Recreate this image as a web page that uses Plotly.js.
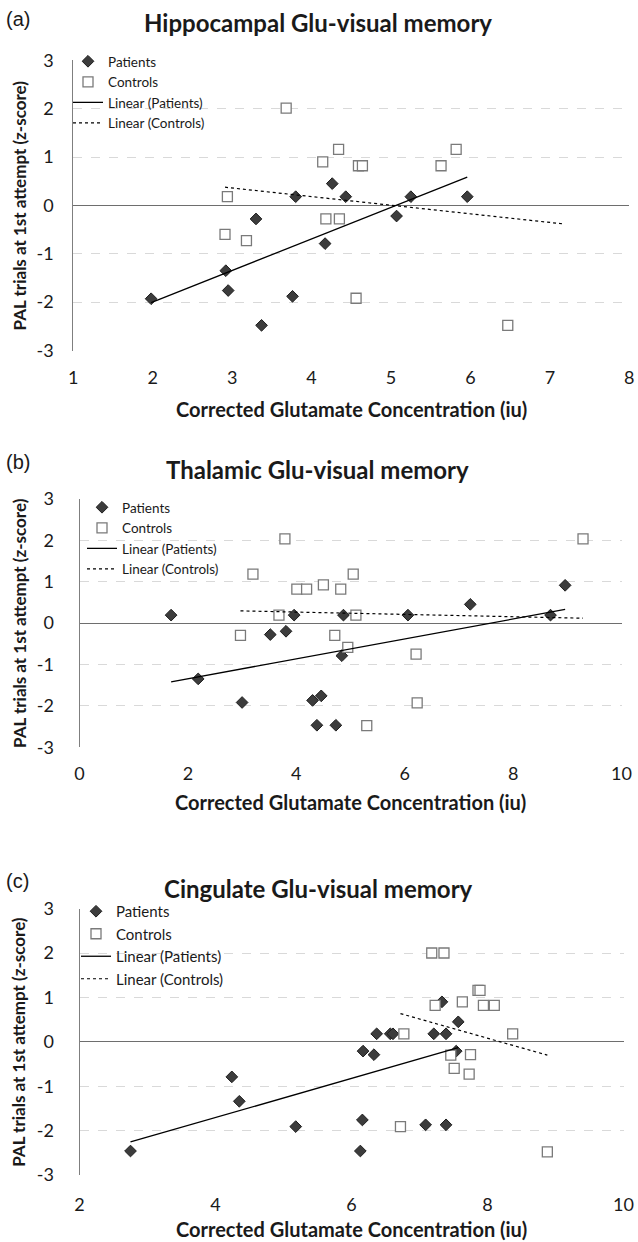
<!DOCTYPE html>
<html><head><meta charset="utf-8">
<script src="https://cdn.plot.ly/plotly-3.0.1.min.js"></script>
<style>html,body{margin:0;padding:0;background:#fff}#chart{width:638px;height:1242px}</style>
</head><body><div id="chart"></div>
<script>
// ---- Panel (a) Hippocampal ----
const hipPatientsX = [1.98, 2.92, 2.95, 3.30, 3.37, 3.76, 3.80, 4.17, 4.26, 4.43, 5.07, 5.25, 5.96];
const hipPatientsY = [-1.93, -1.35, -1.76, -0.28, -2.48, -1.88, 0.18, -0.79, 0.45, 0.18, -0.22, 0.18, 0.18];
const hipControlsX = [3.68, 4.34, 4.14, 4.59, 4.64, 2.94, 4.18, 4.35, 2.91, 3.18, 4.56, 5.82, 5.63, 6.47];
const hipControlsY = [2.01, 1.16, 0.90, 0.82, 0.82, 0.18, -0.28, -0.28, -0.60, -0.73, -1.92, 1.16, 0.82, -2.48];
const hipControlsForecast = 0.7; // trendline forward forecast

// ---- Panel (b) Thalamic ----
const thalPatientsX = [1.69, 2.19, 3.00, 3.52, 3.81, 3.96, 4.30, 4.46, 4.38, 4.73, 4.84, 4.87, 6.06, 7.21, 8.69, 8.96];
const thalPatientsY = [0.19, -1.35, -1.92, -0.28, -0.20, 0.19, -1.87, -1.76, -2.47, -2.47, -0.79, 0.19, 0.19, 0.45, 0.19, 0.91];
const thalControlsX = [2.97, 3.20, 3.68, 3.79, 4.01, 4.19, 4.50, 4.71, 4.82, 4.95, 5.05, 5.10, 5.30, 6.21, 6.23, 9.29];
const thalControlsY = [-0.30, 1.18, 0.19, 2.03, 0.82, 0.82, 0.92, -0.30, 0.82, -0.59, 1.18, 0.19, -2.48, -0.75, -1.93, 2.03];

// ---- Panel (c) Cingulate ----
const cingPatientsX = [2.75, 4.24, 4.35, 5.18, 6.13, 6.16, 6.17, 6.33, 6.37, 6.57, 6.61, 7.09, 7.21, 7.33, 7.39, 7.39, 7.54, 7.57];
const cingPatientsY = [-2.46, -0.79, -1.34, -1.91, -2.46, -1.76, -0.21, -0.29, 0.18, 0.18, 0.18, -1.87, 0.18, 0.90, 0.18, -1.87, -0.21, 0.45];
const cingControlsX = [6.72, 6.77, 7.18, 7.23, 7.36, 7.46, 7.51, 7.63, 7.73, 7.75, 7.86, 7.89, 7.94, 8.10, 8.37, 8.88];
const cingControlsY = [-1.91, 0.18, 2.00, 0.82, 2.00, -0.30, -0.60, 0.90, -0.73, -0.29, 1.16, 1.16, 0.82, 0.82, 0.18, -2.48];

const panelLetters = ['(a)', '(b)', '(c)'];
const panelTitles = ['Hippocampal Glu-visual memory', 'Thalamic Glu-visual memory', 'Cingulate Glu-visual memory'];
const xTitle = 'Corrected Glutamate Concentration (iu)';
const yTitle = 'PAL trials at 1st attempt (z-score)';
const seriesNames = ['Patients', 'Controls', 'Linear (Patients)', 'Linear (Controls)'];
const xRanges = [[1, 8], [0, 10], [2, 10]];
const xDticks = [1, 2, 2];
const yTickVals = [-3, -2, -1, 0, 1, 2, 3];
const yTickText = ['-3', '-2', '-1', '0', '1', '2', '3'];

// ---- helpers ----
const W = 638, H = 1242;
const px = v => v / W;
const py = v => 1 - v / H;
const FONT = 'Lato, "Open Sans", sans-serif';

function linfit(xs, ys) {
  const n = xs.length;
  const mx = xs.reduce((a, b) => a + b, 0) / n;
  const my = ys.reduce((a, b) => a + b, 0) / n;
  let sxy = 0, sxx = 0;
  for (let i = 0; i < n; i++) { sxy += (xs[i] - mx) * (ys[i] - my); sxx += (xs[i] - mx) ** 2; }
  const m = sxy / sxx; return { m: m, b: my - m * mx };
}
function trendXY(xs, ys, fwd) {
  const f = linfit(xs, ys);
  const x0 = Math.min(...xs), x1 = Math.max(...xs) + (fwd || 0);
  return { x: [x0, x1], y: [f.m * x0 + f.b, f.m * x1 + f.b] };
}

const panels = [
  { pX: hipPatientsX, pY: hipPatientsY, cX: hipControlsX, cY: hipControlsY, fwd: hipControlsForecast },
  { pX: thalPatientsX, pY: thalPatientsY, cX: thalControlsX, cY: thalControlsY, fwd: 0 },
  { pX: cingPatientsX, pY: cingPatientsY, cX: cingControlsX, cY: cingControlsY, fwd: 0 }
];

// layout geometry (pixels)
const geo = [
  { x0: 73.3, x1: 629.3, yTop: 60.3, yBot: 350.5, titleY: 23, letterY: 19, xStand: 14, xTitleY: 409, legX: 68, legY: 46, legFont: 13.5, yTickLen: 15 },
  { x0: 79.5, x1: 621.5, yTop: 498.8, yBot: 747.2, titleY: 469, letterY: 462, xStand: 14, xTitleY: 802, legX: 82, legY: 492, legFont: 13.5, yTickLen: 21 },
  { x0: 79.5, x1: 623.5, yTop: 908.6, yBot: 1175, titleY: 888, letterY: 881, xStand: 17, xTitleY: 1229, legX: 76, legY: 895, legFont: 15, yTickLen: 21 }
];

const data = [];
const layout = {
  width: W, height: H, margin: { l: 0, r: 0, t: 0, b: 0 },
  paper_bgcolor: '#fff', plot_bgcolor: '#fff',
  font: { family: FONT, color: '#1a1a1a' },
  annotations: [], showlegend: true
};

panels.forEach((p, i) => {
  const k = i === 0 ? '' : String(i + 1);
  const xa = 'x' + k, ya = 'y' + k;
  const leg = 'legend' + k;
  const g = geo[i];
  const pt = trendXY(p.pX, p.pY, 0);
  const ct = trendXY(p.cX, p.cY, p.fwd);
  data.push({ type: 'scatter', mode: 'markers', name: seriesNames[0], x: p.pX, y: p.pY, xaxis: xa, yaxis: ya, legend: leg,
    marker: { symbol: 'diamond', size: 9, color: '#3c3c3c', line: { color: '#1e1e1e', width: 1 } } });
  data.push({ type: 'scatter', mode: 'markers', name: seriesNames[1], x: p.cX, y: p.cY, xaxis: xa, yaxis: ya, legend: leg,
    marker: { symbol: 'square', size: 10, color: '#ffffff', line: { color: '#7a7a7a', width: 1.3 } } });
  data.push({ type: 'scatter', mode: 'lines', name: seriesNames[2], x: pt.x, y: pt.y, xaxis: xa, yaxis: ya, legend: leg,
    line: { color: '#000', width: 1.3 } });
  data.push({ type: 'scatter', mode: 'lines', name: seriesNames[3], x: ct.x, y: ct.y, xaxis: xa, yaxis: ya, legend: leg,
    line: { color: '#000', width: 1.2, dash: 'dot' } });

  layout['xaxis' + k] = {
    domain: [px(g.x0), px(g.x1)], range: xRanges[i], dtick: xDticks[i], tick0: 0, anchor: ya,
    showgrid: false, zeroline: false, showline: false, ticks: '', ticklabelstandoff: g.xStand,
    tickfont: { family: FONT, size: 18, color: '#1a1a1a' }, fixedrange: true
  };
  layout['yaxis' + k] = {
    domain: [py(g.yBot), py(g.yTop)], range: [-3, 3], tickmode: 'array', tickvals: yTickVals, ticktext: yTickText, anchor: xa,
    showgrid: true, gridcolor: '#d9d9d9', griddash: 'dash', gridwidth: 1,
    zeroline: true, zerolinecolor: '#6e6e6e', zerolinewidth: 1,
    showline: true, linecolor: '#7f7f7f', linewidth: 1,
    ticks: 'outside', ticklen: g.yTickLen, tickcolor: 'rgba(0,0,0,0)',
    tickfont: { family: FONT, size: 18, color: '#1a1a1a' }, fixedrange: true
  };
  layout[leg] = {
    x: px(g.legX), y: py(g.legY), xanchor: 'left', yanchor: 'top', bgcolor: 'rgba(0,0,0,0)',
    font: { family: FONT, size: g.legFont, color: '#1a1a1a' }, tracegroupgap: 0, borderwidth: 0
  };
  const cx = (g.x0 + g.x1) / 2;
  layout.annotations.push(
    { text: panelLetters[i], xref: 'paper', yref: 'paper', x: px(4), y: py(g.letterY), xanchor: 'left', yanchor: 'middle', showarrow: false,
      font: { family: '"Liberation Sans", Arial, sans-serif', size: 20, color: '#1a1a1a' } },
    { text: '<b>' + panelTitles[i] + '</b>', xref: 'paper', yref: 'paper', x: px(cx - 33), y: py(g.titleY), xanchor: 'center', yanchor: 'middle', showarrow: false,
      font: { family: FONT, size: 24, color: '#1a1a1a' } },
    { text: '<b>' + xTitle + '</b>', xref: 'paper', yref: 'paper', x: px(cx), y: py(g.xTitleY), xanchor: 'center', yanchor: 'middle', showarrow: false,
      font: { family: FONT, size: 20, color: '#1a1a1a' } },
    { text: '<b>' + yTitle + '</b>', xref: 'paper', yref: 'paper', x: px(19), y: py((g.yTop + g.yBot) / 2), xanchor: 'center', yanchor: 'middle', showarrow: false,
      textangle: -90, font: { family: FONT, size: 17, color: '#1a1a1a' } }
  );
});

Plotly.newPlot('chart', data, layout, { staticPlot: true, displayModeBar: false });
</script>
</body></html>
